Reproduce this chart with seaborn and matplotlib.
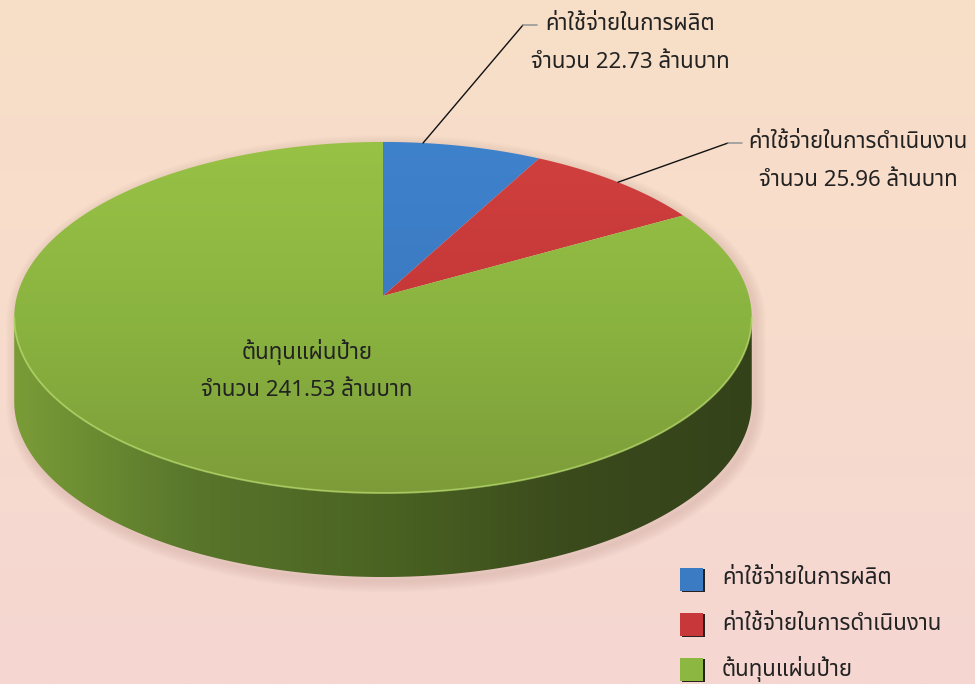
import numpy as np
import matplotlib
matplotlib.use("Agg")
import matplotlib.pyplot as plt
import seaborn as sns
from matplotlib.patches import Polygon, Rectangle

# chart data
labels = ["ค่าใช้จ่ายในการผลิต", "ค่าใช้จ่ายในการดำเนินงาน", "ต้นทุนแผ่นป้าย"]
values = [22.73, 25.96, 241.53]
unit_prefix = "จำนวน"
unit_suffix = "ล้านบาท"
colors = ["#3a7bc3", "#c8383a", "#8cb842"]

sns.set_style("white")
plt.rcParams["font.family"] = ["Tahoma", "Noto Sans Thai", "Noto Sans Thai UI", "Loma",
                               "Garuda", "Norasi", "Sarabun", "Kinnari", "DejaVu Sans"]

W, H = 975, 684
CX, CY = 383, 296          # apex of the slices
A, B, K = 172.9, 366.0, 0.1224   # perspective ellipse
DEPTH = 84


def project(theta, drop=0.0):
    t = np.radians(theta)
    u, v = np.sin(t), np.cos(t)
    d = 1 + K * v
    return CX + B * u / d, CY - A * v / d + drop


def gradient_fill(ax, poly, stops, vertical=True, extent=None):
    cmap = sns.blend_palette(stops, as_cmap=True)
    g = np.linspace(0, 1, 256)
    img = g[:, None] if vertical else g[None, :]
    xs, ys = poly.get_xy()[:, 0], poly.get_xy()[:, 1]
    if extent is None:
        extent = (xs.min(), xs.max(), ys.max(), ys.min())
    im = ax.imshow(img, cmap=cmap, extent=extent, aspect="auto",
                   origin="upper" if vertical else "lower", zorder=poly.get_zorder())
    ax.add_patch(poly)
    poly.set_visible(False)
    im.set_clip_path(poly)
    return im


fig = plt.figure(figsize=(9.75, 6.84), dpi=100)
ax = fig.add_axes([0, 0, 1, 1])
ax.set_xlim(0, W)
ax.set_ylim(H, 0)
ax.axis("off")

# background
bg = sns.blend_palette(["#f8dfc7", "#f7dccd", "#f5d6d2"], as_cmap=True)
ax.imshow(np.linspace(0, 1, 256)[:, None], cmap=bg, extent=(0, W, H, 0),
          aspect="auto", zorder=0)

fr = np.array(values) / np.sum(values)
edges = np.concatenate([[0], np.cumsum(fr) * 360])

# silhouette shadow
th_back = np.linspace(-97, 97, 200)
th_front = np.linspace(97, 263, 200)
bx, by = project(th_back)
fx, fy = project(th_front, DEPTH)
sx = np.concatenate([bx, fx, [bx[0]]])
sy = np.concatenate([by, fy, [by[0]]])
for w in np.linspace(2, 16, 8):
    ax.plot(sx + 3, sy + 4, color="#b08a80", lw=w, alpha=0.03,
            solid_joinstyle="round", zorder=1)

# side wall (front half)
tx, ty = project(th_front)
side = Polygon(np.column_stack([np.concatenate([tx, fx[::-1]]),
                                np.concatenate([ty, fy[::-1]])]), closed=True, zorder=2)
gradient_fill(ax, side, ["#7a9c37", "#58752b", "#4a6322", "#3b4b1c", "#34421a"],
              vertical=False)

# top face slices
shades = [["#3f82cc", "#3572b8"], ["#d0403f", "#b8302f"],
          ["#98c245", "#8ab440", "#7d9c39"]]
top_ext = (CX - B * 1.02, CX + B * 1.02, CY + A / (1 - K) + 2, CY - A / (1 + K) - 2)
for i in range(len(values)):
    th = np.linspace(edges[i], edges[i + 1], 200)
    px, py = project(th)
    poly = Polygon(np.column_stack([np.concatenate([[CX], px]),
                                    np.concatenate([[CY], py])]), closed=True, zorder=3)
    gradient_fill(ax, poly, shades[i], vertical=True, extent=top_ext)

# rim highlight along the front edge
ax.plot(tx, ty, color="#b5da6a", lw=1.4, alpha=0.7, zorder=4)

# labels
FS = 16
text_kw = dict(ha="center", va="center", fontsize=FS, color="#222222", zorder=6)
label_pos = [(630, 24), (858, 142), (307, 352)]
line_gap = 38
for i, (lx, ly) in enumerate(label_pos):
    ax.text(lx, ly, labels[i], **text_kw)
    ax.text(lx, ly + line_gap, f"{unit_prefix} {values[i]:.2f} {unit_suffix}", **text_kw)

# leader lines for the two small slices
anchor_frac = [0.25, 0.5]
elbows = [(523, 25), (728, 143)]
tails = [(537, 25), (742, 143)]
for i in range(2):
    ang = edges[i] + anchor_frac[i] * (edges[i + 1] - edges[i])
    ax0, ay0 = project(ang)
    ax.plot([ax0, elbows[i][0]], [ay0, elbows[i][1]], color="#111111", lw=1.0, zorder=5)
    ax.plot([elbows[i][0], tails[i][0]], [elbows[i][1], tails[i][1]],
            color="#999999", lw=1.2, zorder=5)

# legend
leg_x, leg_y0, leg_gap, sq = 680, 579, 45, 23
for i in range(len(values)):
    y = leg_y0 + i * leg_gap
    ax.add_patch(Rectangle((leg_x + 1.5, y - sq / 2 + 1.5), sq, sq,
                           facecolor="#2a2020", edgecolor="none", zorder=5))
    ax.add_patch(Rectangle((leg_x, y - sq / 2), sq, sq, facecolor=colors[i],
                           edgecolor="none", zorder=6))
    ax.text(leg_x + 42, y, labels[i], ha="left", va="center", fontsize=FS,
            color="#222222", zorder=6)

fig.savefig("out.png", dpi=100)
